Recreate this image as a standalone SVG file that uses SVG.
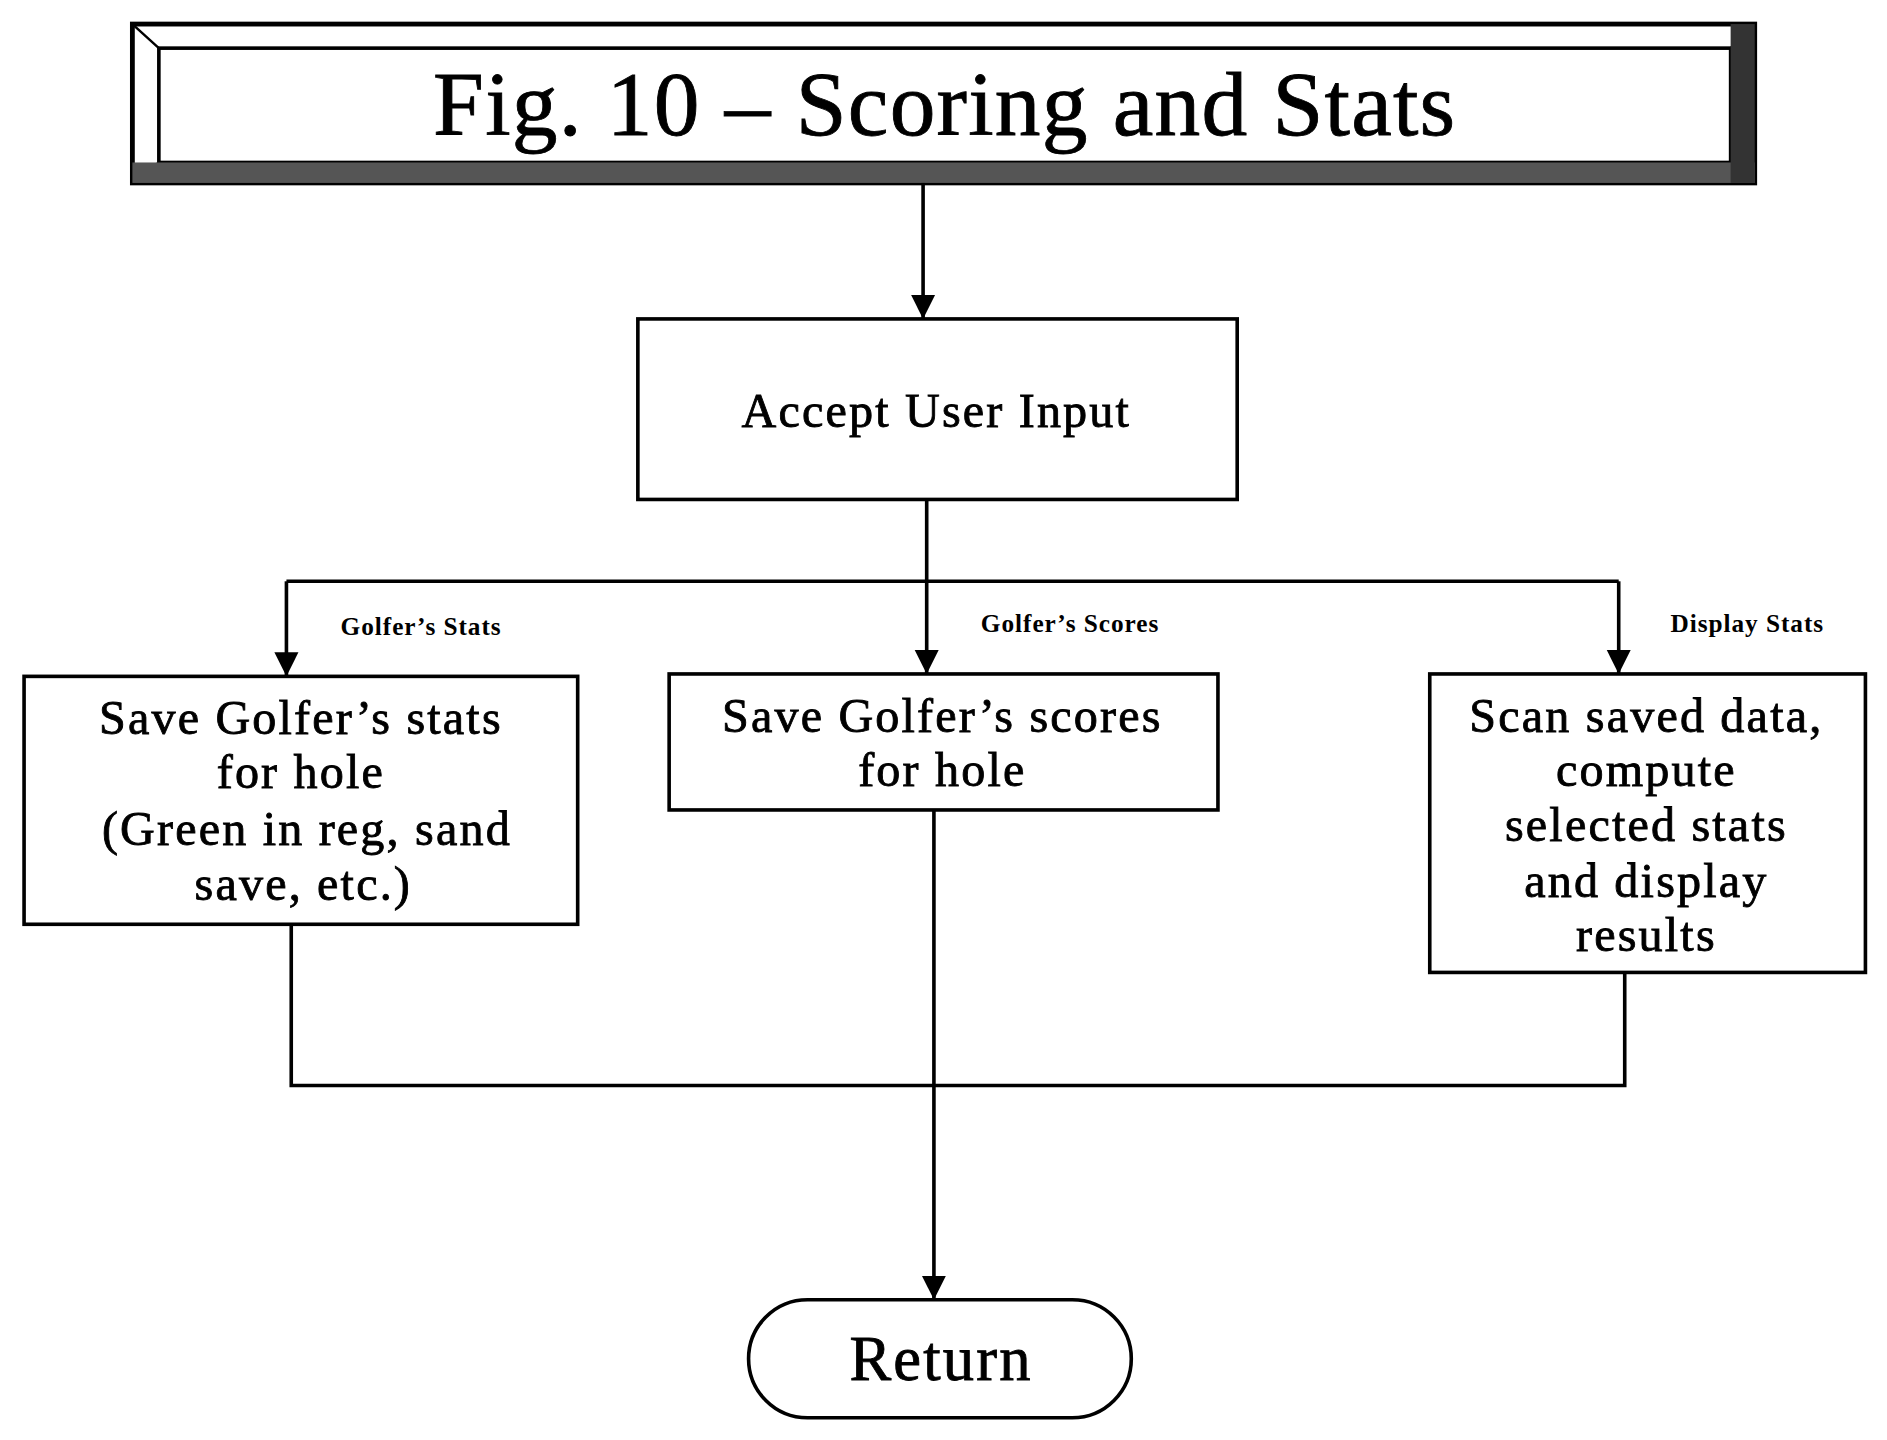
<svg xmlns="http://www.w3.org/2000/svg" width="1887" height="1440" viewBox="0 0 1887 1440">
<defs>
<marker id="ah" markerWidth="20" markerHeight="22" refX="20" refY="10" orient="auto" markerUnits="userSpaceOnUse" viewBox="0 0 20 20"><path d="M0,0 L20,10 L0,20 z" fill="#000"/></marker>
<style>
.b{fill:#fff;stroke:#000;stroke-width:3}
.t{font-family:"Liberation Serif",serif;font-size:40px;letter-spacing:1.8px;text-anchor:middle;fill:#000;stroke:#000;stroke-width:0.7}
.s{font-family:"Liberation Serif",serif;font-size:21px;letter-spacing:0.8px;font-weight:bold;fill:#000}
.c{fill:none;stroke:#000;stroke-width:3}
</style>
</defs>
<rect width="1887" height="1440" fill="#fff"/>
<g transform="scale(1.2035)">
<g id="title">
<rect x="110" y="20" width="1348" height="132" fill="#fff" stroke="#000" stroke-width="4"/>
<path d="M110,20 L132,40 M1458,20 L1438,40 M110,152 L132,135 M1458,152 L1438,135" stroke="#000" stroke-width="2"/>
<rect x="132" y="40" width="1306" height="95" fill="#fff" stroke="#000" stroke-width="3"/>
<rect x="110" y="135" width="1348" height="17" fill="#555"/>
<rect x="1438" y="20" width="20" height="132" fill="#333"/>
<text x="785" y="112" class="t" style="font-size:76px;letter-spacing:1px">Fig. 10 – Scoring and Stats</text>
</g>
<g id="connectors">
<path class="c" d="M767,152 V265" marker-end="url(#ah)"/>
<path class="c" d="M770,415 V560" marker-end="url(#ah)"/>
<path class="c" d="M238,483 H1345"/>
<path class="c" d="M238,483 V562" marker-end="url(#ah)"/>
<path class="c" d="M1345,483 V560" marker-end="url(#ah)"/>
<path class="c" d="M242,768 V902 H1350 V808"/>
<path class="c" d="M776,673 V1080" marker-end="url(#ah)"/>
<text x="283" y="528" class="s">Golfer’s Stats</text>
<text x="815" y="525" class="s">Golfer’s Scores</text>
<text x="1388" y="525" class="s">Display Stats</text>
</g>
<g id="accept"><rect class="b" x="530" y="265" width="498" height="150"/><text class="t" x="778" y="355">Accept User Input</text></g>
<g id="stats"><rect class="b" x="20" y="562" width="460" height="206"/>
<text class="t" x="250" y="610">Save Golfer’s stats</text><text class="t" x="250" y="655">for hole</text><text class="t" x="255" y="702">(Green in reg, sand</text><text class="t" x="252" y="748">save, etc.)</text></g>
<g id="scores"><rect class="b" x="556" y="560" width="456" height="113"/>
<text class="t" x="783" y="608">Save Golfer’s scores</text><text class="t" x="783" y="653">for hole</text></g>
<g id="display"><rect class="b" x="1188" y="560" width="362" height="248"/>
<text class="t" x="1368" y="608">Scan saved data,</text><text class="t" x="1368" y="653">compute</text><text class="t" x="1368" y="699">selected stats</text><text class="t" x="1368" y="745">and display</text><text class="t" x="1368" y="790">results</text></g>
<g id="return"><rect class="b" x="622" y="1080" width="318" height="98" rx="49"/><text class="t" x="782" y="1147" style="font-size:52px">Return</text></g>
</g>
</svg>
